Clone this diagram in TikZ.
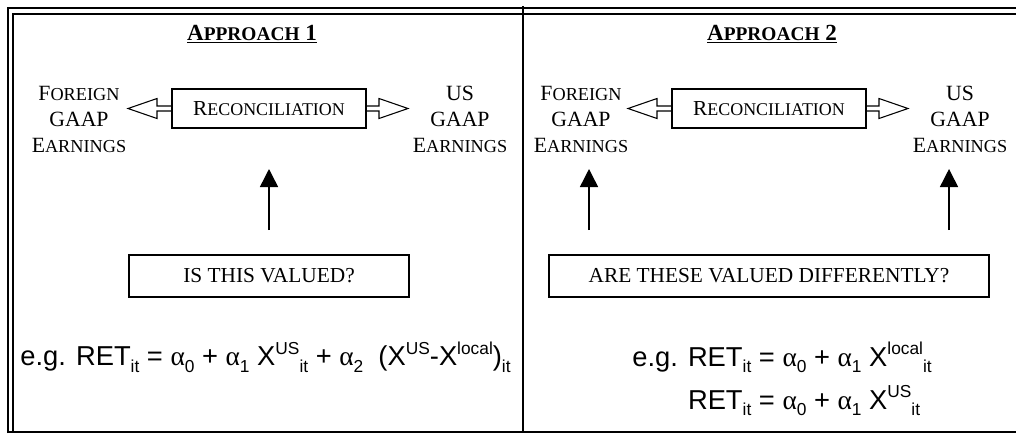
\documentclass[tikz,border=0pt]{standalone}
\usepackage{fontspec}
\setmainfont{Liberation Serif}
\newfontfamily\arialfont{Liberation Sans}
\usepackage{graphicx}
\usetikzlibrary{calc}
\usetikzlibrary{arrows.meta}

% small caps the way the word processor fakes them
\newcommand\smc[2]{#1\scalebox{0.84}{#2}}
% formula indices
\newcommand\lo[1]{\raisebox{-0.45ex}{\fontsize{13}{13}\selectfont #1}}
\newcommand\hi[1]{\raisebox{0.8ex}{\fontsize{13}{13}\selectfont #1}}
\newcommand\al{{\rmfamily α}}

% hollow arrow from a box edge to a tip
\newcommand\openarrow[2]{%
  \coordinate (hb) at ($(#2)!21.75pt!(#1)$);
  \draw[hollow] ($(#1)+(0,2.5)$) -- ($(hb)+(0,2.5)$) -- ($(hb)+(0,10)$) -- (#2)
     -- ($(hb)+(0,-10)$) -- ($(hb)+(0,-2.5)$) -- ($(#1)+(0,-2.5)$);}

\begin{document}
\begin{tikzpicture}[x=0.75pt,y=-0.75pt,
    frame/.style={line width=1.5pt},
    box/.style={draw,line width=1pt,inner sep=0pt},
    hollow/.style={line width=0.8pt,line join=miter},
    uparr/.style={line width=1.1pt,-{Triangle[length=13.5pt,width=13.5pt]}},
    lbl/.style={align=center,font=\fontsize{16.3}{19.5}\selectfont},
    ttl/.style={font=\fontsize{17.3}{18}\selectfont\bfseries},
    qtxt/.style={font=\fontsize{16}{18}\selectfont},
    fml/.style={font=\arialfont\fontsize{20.5}{32}\selectfont,align=left}]

\useasboundingbox (0,0) rectangle (1016,433);

%---------------------------------------
% Frame
%---------------------------------------
\draw[frame] (7.5,433) -- (7.5,7.5) -- (1020,7.5);
\draw[frame] (13,431.5) -- (13,14) -- (1020,14);
\draw[frame] (7.5,431.5) -- (1020,431.5);
\draw[frame] (523,6) -- (523,433);

%====================================================
% LEFT PANEL: approach 1
%====================================================
\node[ttl] (ttl1) at (252,34) {\underline{\smc{A}{PPROACH} 1}};

\node[lbl] (fg1) at (79,119) {\smc{F}{OREIGN}\\GAAP\\\smc{E}{ARNINGS}};
\node[lbl] (us1) at (460,119) {US\\GAAP\\\smc{E}{ARNINGS}};

\node[box,qtxt,minimum width=145.5pt,minimum height=29.25pt] (rec1) at (269,108.5)
  {\smc{R}{ECONCILIATION}};
\coordinate (tipL1) at (128,108.5);
\coordinate (tipR1) at (408,108.5);
\openarrow{rec1.west}{tipL1}
\openarrow{rec1.east}{tipR1}

\node[box,qtxt,minimum width=210pt,minimum height=31.5pt] (q1) at (269,276)
  {IS THIS VALUED?};

% arrow up to the reconciliation
\coordinate (a1s) at (269,230);
\coordinate (a1t) at (269,169);
\draw[uparr] (a1s) -- (a1t);

\node[fml] (eq1) at (265.5,357)
  {e.g. RET\lo{it} = \al\lo{0} + \al\lo{1} X\hi{US}\lo{it} + \al\lo{2}\ \ (X\hi{US}-X\hi{local})\lo{it}};

%====================================================
% RIGHT PANEL: approach 2
%====================================================
\node[ttl] (ttl2) at (772,34) {\underline{\smc{A}{PPROACH} 2}};

\node[lbl] (fg2) at (581,119) {\smc{F}{OREIGN}\\GAAP\\\smc{E}{ARNINGS}};
\node[lbl] (us2) at (960,119) {US\\GAAP\\\smc{E}{ARNINGS}};

\node[box,qtxt,minimum width=145.5pt,minimum height=29.25pt] (rec2) at (769,108.5)
  {\smc{R}{ECONCILIATION}};
\coordinate (tipL2) at (628,108.5);
\coordinate (tipR2) at (908,108.5);
\openarrow{rec2.west}{tipL2}
\openarrow{rec2.east}{tipR2}

\node[box,qtxt,minimum width=330pt,minimum height=31.5pt] (q2) at (769,276)
  {ARE THESE VALUED DIFFERENTLY?};

% arrows up to both earnings
\coordinate (a2s) at (589,230);
\coordinate (a2t) at (589,169);
\coordinate (a3s) at (949,230);
\coordinate (a3t) at (949,169);
\draw[uparr] (a2s) -- (a2t);
\draw[uparr] (a3s) -- (a3t);

\node[fml] (eq2) at (782,379)
  {e.g. RET\lo{it} = \al\lo{0} + \al\lo{1} X\hi{local}\lo{it}\\
   \phantom{e.g. }RET\lo{it} = \al\lo{0} + \al\lo{1} X\hi{US}\lo{it}};

\end{tikzpicture}
\end{document}
